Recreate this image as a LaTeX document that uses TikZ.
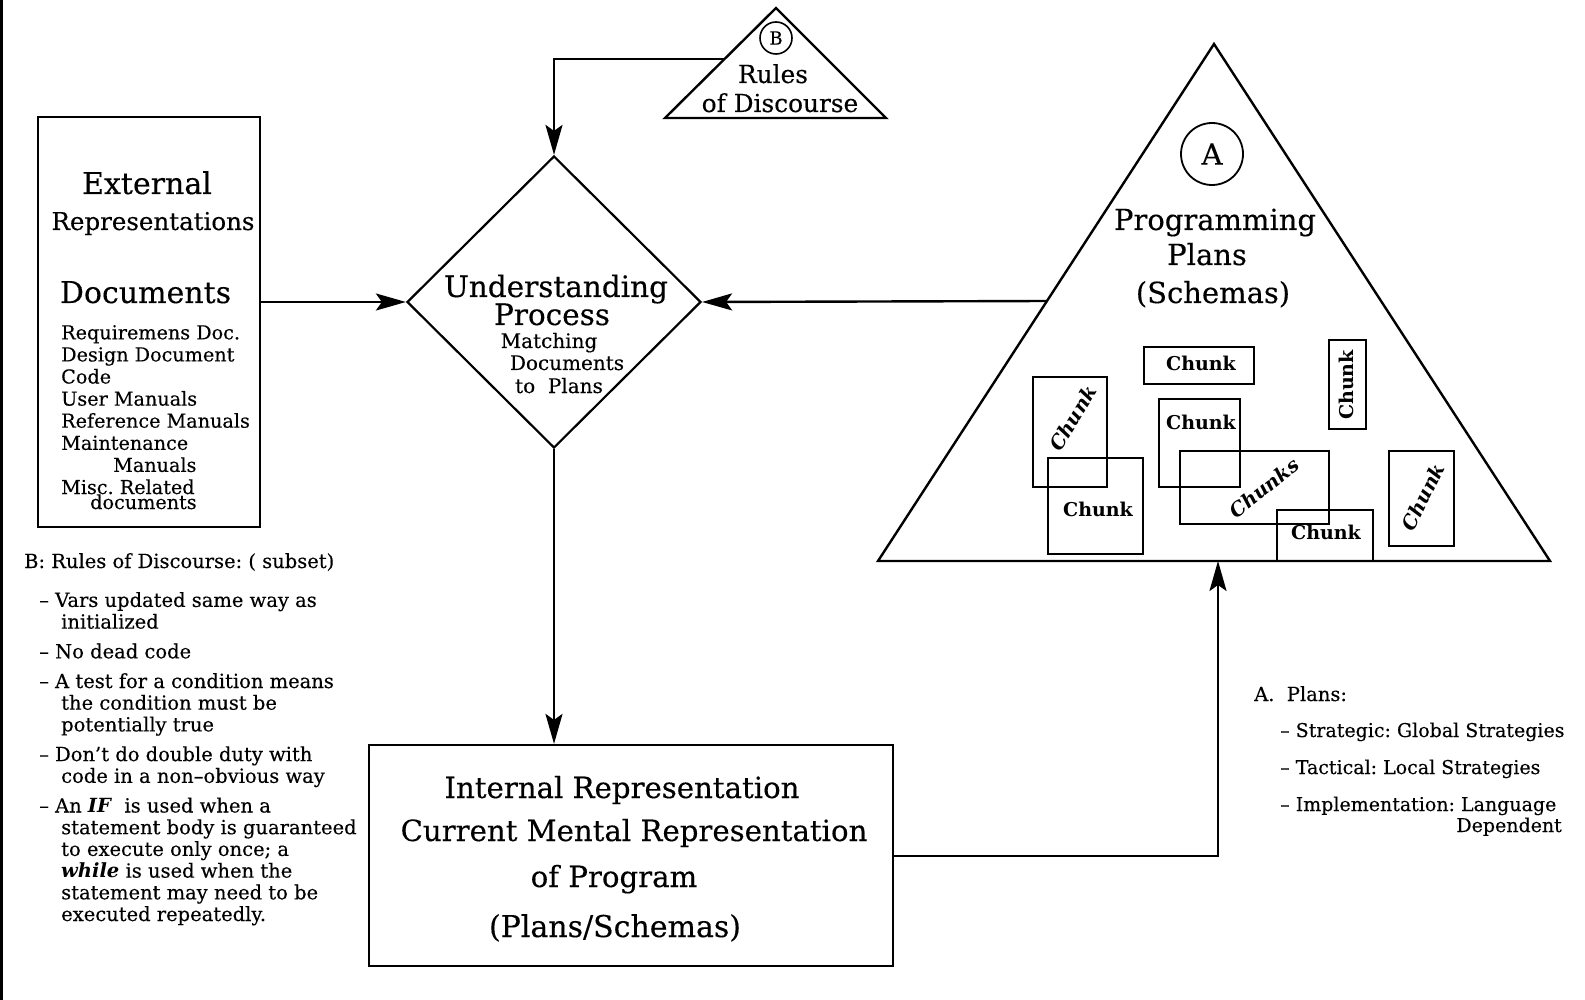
\documentclass[tikz,border=0pt]{standalone}
\usepackage{fontspec}
\setmainfont{DejaVu Serif}[UprightFeatures={FakeBold=0.3}]
\usetikzlibrary{arrows.meta,shapes.geometric}

\newcommand{\setfs}[2]{\fontsize{#1}{#2}\selectfont}

\begin{document}
\frenchspacing
\begin{tikzpicture}[x=1pt,y=-1pt,line join=miter,
  frame/.style={draw,line width=2.2pt,inner sep=0pt,rectangle},
  link/.style={line width=2.4pt},
  conn/.style={link,-{Stealth[length=30pt,width=17pt,inset=6pt]}},
  chunkbox/.style={draw,line width=1.2pt,inner sep=0pt,rectangle},
  chunk/.style={inner sep=0pt,font=\setfs{19}{19}\bfseries},
  chunki/.style={inner sep=0pt,font=\setfs{19.5}{19.5}\bfseries\itshape},
  big/.style={inner sep=0pt,anchor=base,font=\setfs{29}{29}},
  mid/.style={inner sep=0pt,anchor=base,font=\setfs{24.8}{24.8}},
  small/.style={inner sep=0pt,anchor=base,font=\setfs{20}{20}},
  txt/.style={inner sep=0pt,anchor=base west,font=\setfs{19.5}{21.7}},
  % multi-line blocks are placed by the baseline of their last line
  listing/.style={txt,align=left}]

\useasboundingbox (0,0) rectangle (1585,1000);

% frame rule on the left edge
\draw[line width=3pt] (1.5,0) -- (1.5,1000);

% ---- external representations
\node[frame,minimum width=222pt,minimum height=410pt] (ext) at (149,322) {};
\node[big,font=\setfs{30}{30}] (extA) at (147,194) {External};
\node[big,font=\setfs{24.5}{24.5}] (extB) at (153,230) {Representations};
\node[big,font=\setfs{30}{30}] (extC) at (145.5,303) {Documents};
\node[listing,font=\setfs{19.2}{22.1}] (extL) at (61,509) {Requiremens Doc.\\Design Document\\Code\\User Manuals\\Reference Manuals\\Maintenance\\\hspace*{52pt}Manuals\\Misc. Related\\[-7.1pt]\hspace*{29pt}documents};

% ---- understanding process
\node[diamond,draw,line width=2.2pt,minimum width=294pt,minimum height=292pt,inner sep=0pt] (dia) at (554,302) {};
\node[big,font=\setfs{29.5}{29.5}] (diaA) at (556,297) {Understanding};
\node[big,font=\setfs{29.5}{29.5}] (diaB) at (552,325) {Process};
\node[small] (diaC) at (549,348) {Matching};
\node[small] (diaD) at (567,370) {Documents};
\node[small] (diaE) at (559,393) {to\ \ Plans};

% ---- rules of discourse
\coordinate (tb) at (776,8);
\coordinate (tbl) at (665,118);
\coordinate (tbr) at (886,118);
\draw[link] (tb) -- (tbl) -- (tbr) -- cycle;
\coordinate (bside) at (724.5,59);
\node[circle,draw,line width=1.6pt,minimum size=32pt,inner sep=0pt,font=\setfs{18}{18}] (cb) at (776,38) {B};
\node[mid] (rdA) at (773,83) {Rules};
\node[mid] (rdB) at (780,112) {of Discourse};

% ---- programming plans
\coordinate (ta) at (1214,44);
\coordinate (tl) at (878,561);
\coordinate (tr) at (1550,561);
\draw[link] (ta) -- (tl) -- (tr) -- cycle;
\coordinate (aside) at (1047,301);
\coordinate (abase) at (1218,561);
\node[circle,draw,line width=1.8pt,minimum size=62pt,inner sep=0pt,font=\setfs{29}{29}] (ca) at (1212,154) {A};
\node[big] (ppA) at (1215,230) {Programming};
\node[big] (ppB) at (1207,265) {Plans};
\node[big] (ppC) at (1213,303) {(Schemas)};

% chunks
\node[chunkbox,minimum width=110pt,minimum height=37pt] (c1) at (1199,365.5) {};
\node[chunk] (c1t) at (1201,363) {Chunk};
\node[chunkbox,minimum width=37pt,minimum height=89pt] (c2) at (1347.5,384.5) {};
\node[chunk,rotate=90] (c2t) at (1346,385) {Chunk};
\node[chunkbox,minimum width=74pt,minimum height=110pt] (c3) at (1070,432) {};
\node[chunki,rotate=58] (c3t) at (1073,418) {Chunk};
\node[chunkbox,minimum width=81pt,minimum height=88pt] (c4) at (1199.5,443) {};
\node[chunk] (c4t) at (1201,422) {Chunk};
\node[chunkbox,minimum width=95pt,minimum height=96pt] (c5) at (1095.5,506) {};
\node[chunk] (c5t) at (1098,509) {Chunk};
\node[chunkbox,minimum width=149pt,minimum height=73pt] (c6) at (1254.5,487.5) {};
\node[chunki,rotate=39] (c6t) at (1264,488) {Chunks};
\node[chunkbox,minimum width=96pt,minimum height=51pt] (c7) at (1325,535.5) {};
\node[chunk] (c7t) at (1326,532) {Chunk};
\node[chunkbox,minimum width=65pt,minimum height=95pt] (c8) at (1421.5,498.5) {};
\node[chunki,rotate=64] (c8t) at (1423,497) {Chunk};

% ---- internal representation
\node[frame,minimum width=524pt,minimum height=221pt] (int) at (631,855.5) {};
\node[big,font=\setfs{29.2}{29.2}] (intA) at (622,798) {Internal Representation};
\node[big,font=\setfs{29.2}{29.2}] (intB) at (634,841) {Current Mental Representation};
\node[big,font=\setfs{29.2}{29.2}] (intC) at (614,887) {of Program};
\node[big,font=\setfs{30}{30}] (intD) at (615,937) {(Plans/Schemas)};

% ---- connectors
\draw[conn] (ext.east |- dia.west) -- (dia.west);
\draw[conn] (aside) -- (dia.east);
\draw[conn] (bside) -| (dia.north);
\draw[conn] (dia.south) -- (dia.south |- int.north);
\draw[conn] (int.east |- 0,856) -| (abase);

% ---- notes
\node[txt] (rhead) at (24,568) {B: Rules of Discourse: ( subset)};
\node[listing] (rlist) at (39,921) {– Vars updated same way as\\\hspace*{22pt}initialized\\[8pt]– No dead code\\[8pt]– A test for a condition means\\\hspace*{22pt}the condition must be\\\hspace*{22pt}potentially true\\[8pt]– Don’t do double duty with\\\hspace*{22pt}code in a non–obvious way\\[8pt]– An \textbf{\textit{IF}}\ \ is used when a\\\hspace*{22pt}statement body is guaranteed\\\hspace*{22pt}to execute only once; a\\\hspace*{22pt}\textbf{\textit{while}} is used when the\\\hspace*{22pt}statement may need to be\\\hspace*{22pt}executed repeatedly.};

\node[txt] (ahead) at (1254,701) {A.\ \ Plans:};
\node[listing,font=\setfs{19}{21.7}] (alist) at (1280,811) {– Strategic: Global Strategies\\[15.3pt]– Tactical: Local Strategies\\[15.3pt]– Implementation: Language};
\node[txt,font=\setfs{19}{21.7},anchor=base east] (adep) at (1562,832) {Dependent};

\end{tikzpicture}
\end{document}
